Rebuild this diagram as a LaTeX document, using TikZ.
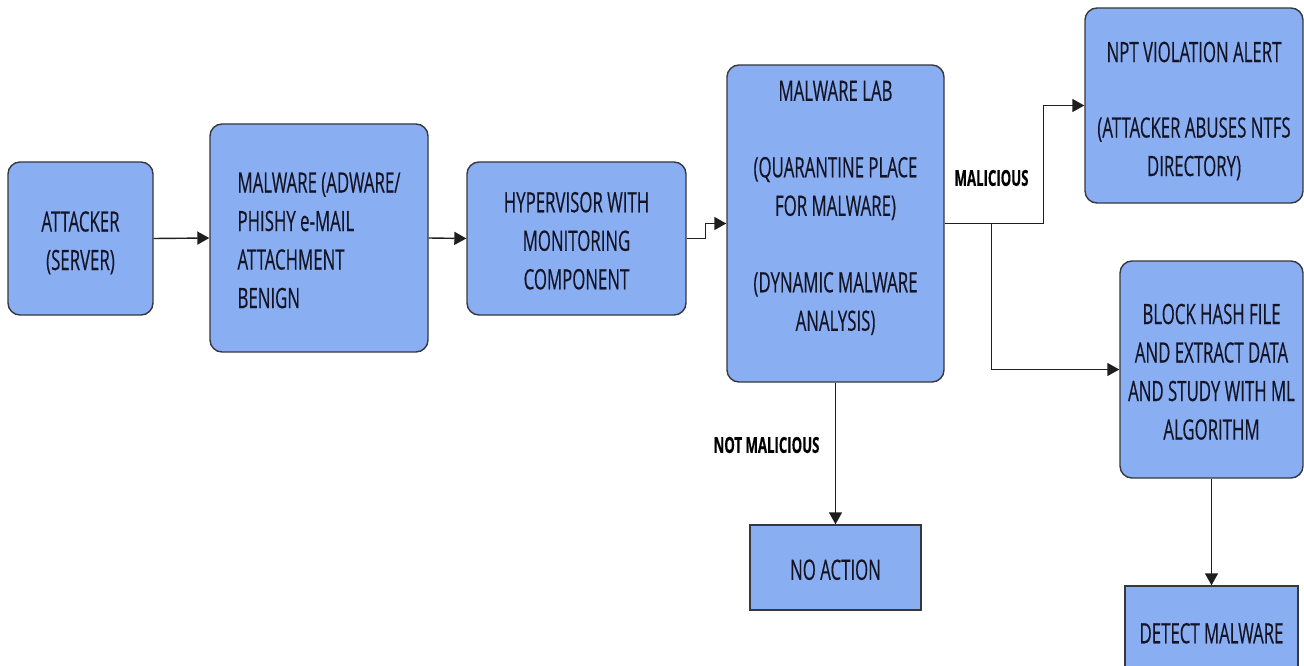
\documentclass[tikz,border=0pt]{standalone}
\usepackage{fontspec}
\setmainfont{Open Sans}[FakeStretch=0.6, FakeBold=0.35]
\usetikzlibrary{arrows.meta}
\definecolor{boxfill}{RGB}{137,174,242}
\definecolor{boxline}{RGB}{55,55,62}
\definecolor{boxtext}{RGB}{20,20,36}
\definecolor{wire}{RGB}{30,30,30}
% line strut: fixes each text line's height and depth
\newcommand\lnstrut{\rule[-7pt]{0pt}{38.5pt}}
\tikzset{
  x=1pt, y=-1pt,
  flowbox/.style={draw=boxline, line width=1.4pt, fill=boxfill, text=boxtext,
    rounded corners=12pt, inner sep=0pt, align=center,
    font=\fontsize{28}{38.5}\selectfont},
  plainbox/.style={flowbox, rounded corners=0pt},
  arr/.style={draw=wire, line width=1.4pt,
    -{Triangle[length=12pt,width=13pt]}},
  branchlabel/.style={text=black, inner sep=0pt,
    font=\fontsize{22}{26}\selectfont\bfseries}
}
\begin{document}
\begin{tikzpicture}
\useasboundingbox (0,0) rectangle (1304,666);

% process boxes
\node[flowbox, minimum width=145pt, minimum height=153pt] (att) at (80.5,238.5)
  {ATTACKER\lnstrut\\(SERVER)\lnstrut};
\node[flowbox, minimum width=218pt, minimum height=228pt, align=left] (mal) at (319,238)
  {MALWARE (ADWARE/\lnstrut\\PHISHY e-MAIL\lnstrut\\ATTACHMENT\lnstrut\\BENIGN\lnstrut};
\node[flowbox, minimum width=219pt, minimum height=153pt] (hyp) at (576.5,238.5)
  {HYPERVISOR WITH\lnstrut\\MONITORING\lnstrut\\COMPONENT\lnstrut};
\node[flowbox, minimum width=217pt, minimum height=317pt] (lab) at (835.5,223.5)
  {MALWARE LAB\lnstrut\\[38pt](QUARANTINE PLACE\lnstrut\\FOR MALWARE)\lnstrut\\[38pt]%
   (DYNAMIC MALWARE\lnstrut\\ANALYSIS)\lnstrut\rule[-47pt]{0pt}{0pt}};
\node[flowbox, minimum width=218pt, minimum height=195pt] (npt) at (1194,105.5)
  {NPT VIOLATION ALERT\rule{0pt}{34pt}\\[37pt](ATTACKER ABUSES NTFS\lnstrut\\DIRECTORY)\lnstrut};
\node[flowbox, minimum width=183pt, minimum height=217pt] (blk) at (1211.5,369.5)
  {BLOCK HASH FILE\lnstrut\\AND EXTRACT DATA\lnstrut\\AND STUDY WITH ML\lnstrut\\ALGORITHM\lnstrut};
\node[plainbox, minimum width=171pt, minimum height=85pt] (noact) at (835.5,567.5)
  {NO ACTION\lnstrut};
\node[plainbox, minimum width=173pt, minimum height=90pt] (det) at (1211.5,631)
  {DETECT MALWARE\lnstrut};

% connectors
\draw[arr] (att.east) -- (mal.west);
\draw[arr] (mal.east) -- (hyp.west);
\draw[arr] (hyp.east) -- ++(19,0) |- (lab.west);
\draw[arr] (lab.east) -- ++(99,0) |- (npt.west);
\coordinate (fork) at ([xshift=47pt]lab.east);
\draw[arr] (fork) |- (blk.west);
\draw[arr] (lab.south) -- (noact.north);
\draw[arr] (blk.south) -- (det.north);

% branch labels
\node[branchlabel] (lmal) at (991.5,178) {MALICIOUS};
\node[branchlabel] (lnot) at (766.5,445) {NOT MALICIOUS};
\end{tikzpicture}
\end{document}
